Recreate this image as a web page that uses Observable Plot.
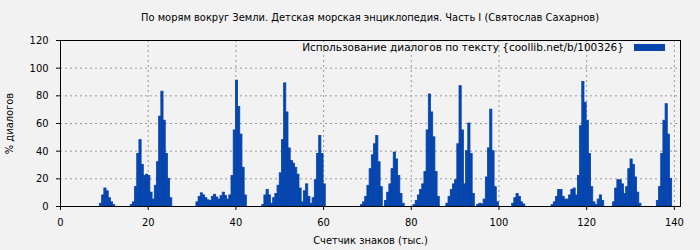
<!DOCTYPE html>
<html><head><meta charset="utf-8">
<script src="https://cdn.jsdelivr.net/npm/d3@7"></script>
<script src="https://cdn.jsdelivr.net/npm/@observablehq/plot@0.6"></script>
<style>
html,body{margin:0;padding:0;background:#f2f2f2;}
body{width:700px;height:250px;overflow:hidden;position:relative;font-family:"DejaVu Sans Condensed","DejaVu Sans",sans-serif;color:#000;}
#title{position:absolute;left:60px;top:10px;width:620px;text-align:center;font-size:11px;line-height:16px;}
#chart{position:absolute;left:0;top:30px;}
#legend{position:absolute;right:76px;top:40px;font-family:"DejaVu Sans",sans-serif;font-size:10.5px;line-height:15px;}
#swatch{position:absolute;left:634px;top:44px;width:31px;height:7px;background:#0645ad;}
</style></head><body>
<div id="title">По морям вокруг Земли. Детская морская энциклопедия. Часть I (Святослав Сахарнов)</div>
<div id="chart"></div>
<div id="legend">Использование диалогов по тексту {coollib.net/b/100326}</div>
<div id="swatch"></div>
<script>
// Bars every 0.5 thousand characters; each peak listed by its first x and its values
const peakStarts = [9, 16, 31, 46, 68.5, 74, 80.5, 88, 95, 96.5, 103, 112, 122, 126, 136];
const peakValues = [
  [2, 8, 13, 11, 6, 3, 1],
  [1, 3, 14, 38, 48, 30, 22, 23, 22, 10, 5, 15, 32, 65, 83, 62, 38, 20, 6],
  [3, 7, 9.5, 8, 6, 4.5, 4, 7, 8.5, 6.5, 5, 7.5, 10, 7.5, 5, 8, 22, 55, 91, 72, 52, 28, 8],
  [1, 8, 12, 8, 2, 6, 9, 15, 24, 48, 89, 68, 42, 33, 31, 28, 23, 13, 3, 11, 16, 7, 2, 6, 19, 38, 51, 38, 16],
  [1, 3, 7, 15, 27, 37, 45, 51, 32, 14],
  [4, 10, 16, 27, 39, 34, 22, 9, 2],
  [1, 4, 8, 12, 16, 25, 55, 81, 68, 50, 25, 7],
  [2, 7, 12, 16, 19, 45, 87, 55, 16, 40, 60, 38, 9],
  [1, 2, 1.5],
  [5, 21, 42, 70, 40, 14, 3],
  [2, 6, 9, 7, 3, 1.5],
  [1, 3, 7, 12, 12, 7, 5, 5, 8, 12, 13, 8, 22, 58, 90, 75, 62, 38, 14, 3],
  [1, 5, 8, 4],
  [3, 13, 19, 19, 16, 9, 14, 27, 34, 30, 21, 10, 2],
  [4, 14, 38, 62, 74, 52, 20]
];
const xTicks = [0, 20, 40, 60, 80, 100, 120, 140];
const yTicks = [0, 20, 40, 60, 80, 100, 120];
const barColor = "#0645ad";
const binWidth = 0.5;

const bars = [];
peakStarts.forEach((s, i) => peakValues[i].forEach((v, j) => bars.push({x: s + j * binWidth, v})));

const font = '"DejaVu Sans Condensed","DejaVu Sans",sans-serif';
const plot = Plot.plot({
  width: 700, height: 220,
  marginTop: 10, marginBottom: 44, marginLeft: 60, marginRight: 20,
  style: {background: "transparent", fontFamily: font, fontSize: "11px", color: "#000", overflow: "visible"},
  x: {domain: [0, 141.4]},
  y: {domain: [0, 120]},
  marks: [
    Plot.gridX(xTicks.slice(1), {stroke: "#999", strokeOpacity: 1, strokeDasharray: "2,3"}),
    Plot.gridY(yTicks.slice(1, -1), {stroke: "#999", strokeOpacity: 1, strokeDasharray: "2,3"}),
    Plot.rectY(bars, {x1: "x", x2: d => d.x + binWidth, y1: 0, y2: "v", fill: barColor, stroke: barColor, strokeWidth: 0.8, insetLeft: 0, insetRight: 0, insetTop: 0, insetBottom: 0}),
    Plot.frame({stroke: "#000"}),
    Plot.axisX({ticks: xTicks, tickSize: 4, tickPadding: 8, label: "Счетчик знаков (тыс.)", labelAnchor: "center", labelArrow: "none", labelOffset: 37}),
    Plot.axisY({ticks: yTicks, tickSize: 4, tickPadding: 8, label: "% диалогов", labelAnchor: "center", labelArrow: "none", labelOffset: 55})
  ]
});
document.getElementById("chart").append(plot);
</script>
</body></html>
